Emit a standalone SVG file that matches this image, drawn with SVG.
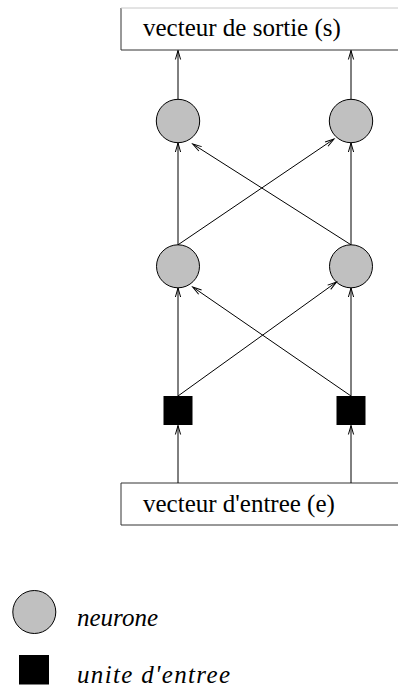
<svg xmlns="http://www.w3.org/2000/svg" width="398" height="688" viewBox="0 0 398 688">
<style>
text{font-family:'Liberation Serif','Times New Roman',Times,'DejaVu Serif',serif;font-size:25px;fill:#000}
.it{font-style:italic}
.neu{fill:#c0c0c0;stroke:#000;stroke-width:1}
.inp{fill:#000}
.box{fill:#fff;stroke:#333;stroke-width:1}
.boxtop{stroke:#c8c8c8;stroke-width:1}
.con line{stroke:#000;stroke-width:1;fill:none;marker-end:url(#ah)}
</style>
<defs>
<marker id="ah" markerUnits="userSpaceOnUse" viewBox="-10 -4 11 8" refX="0" refY="0" markerWidth="11" markerHeight="8" orient="auto" overflow="visible">
<path d="M-9,-2.6 L0,0 L-9,2.6" fill="none" stroke="#000" stroke-width="1"/>
</marker>
</defs>
<rect width="398" height="688" fill="#fff"/>
<g id="sortie">
<path class="box" d="M121,8 V50 H400"/>
<line class="boxtop" x1="121" y1="8" x2="400" y2="8"/>
<text font-family="Liberation Serif, serif" x="143" y="36">vecteur de sortie (s)</text>
</g>
<g id="entree">
<path class="box" d="M400,483 H121 V525 H400"/>
<text font-family="Liberation Serif, serif" x="143" y="512">vecteur d'entree (e)</text>
</g>
<g id="n_top_left"><circle class="neu" cx="178" cy="121" r="21.7"/></g>
<g id="n_top_right"><circle class="neu" cx="351" cy="121" r="21.7"/></g>
<g id="n_mid_left"><circle class="neu" cx="178" cy="266.3" r="21.5"/></g>
<g id="n_mid_right"><circle class="neu" cx="351" cy="266.3" r="21.5"/></g>
<g id="u_left"><rect class="inp" x="163.5" y="396" width="29" height="29"/></g>
<g id="u_right"><rect class="inp" x="336.5" y="396" width="29" height="29"/></g>
<g id="connectors" class="con">
<line x1="178" y1="483" x2="178" y2="425.5"/>
<line x1="351" y1="483" x2="351" y2="425.5"/>
<line x1="178" y1="396" x2="178" y2="288"/>
<line x1="351" y1="396" x2="351" y2="288"/>
<line x1="178" y1="396" x2="336.5" y2="282"/>
<line x1="351" y1="396" x2="192.7" y2="287"/>
<line x1="178" y1="244.8" x2="178" y2="143"/>
<line x1="351" y1="244.8" x2="351" y2="143"/>
<line x1="178" y1="244.8" x2="334" y2="139"/>
<line x1="351" y1="244.8" x2="192.7" y2="144"/>
<line x1="178" y1="99.3" x2="178" y2="50.5"/>
<line x1="351" y1="99.3" x2="351" y2="50.5"/>
</g>
<g id="legend_neurone">
<circle class="neu" cx="34.3" cy="612" r="21.5"/>
<text class="it" font-family="Liberation Serif, serif" x="77" y="626">neurone</text>
</g>
<g id="legend_unite">
<rect class="inp" x="19" y="655" width="30" height="29.5"/>
<text class="it" font-family="Liberation Serif, serif" x="77" y="683" textLength="153" lengthAdjust="spacing">unite d'entree</text>
</g>
</svg>
